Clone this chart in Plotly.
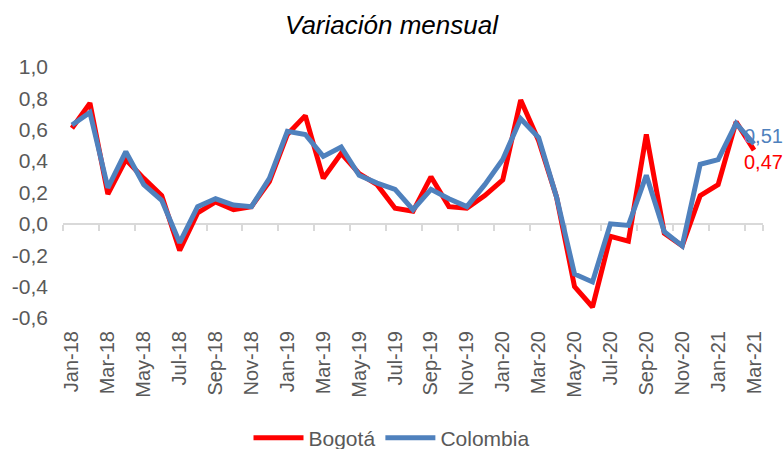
"""
Variación mensual: Bogotá vs Colombia, line chart.
"""

import plotly.graph_objects as go

months = [
    "Jan-18", "Feb-18", "Mar-18", "Apr-18", "May-18", "Jun-18", "Jul-18", "Aug-18",
    "Sep-18", "Oct-18", "Nov-18", "Dec-18", "Jan-19", "Feb-19", "Mar-19", "Apr-19",
    "May-19", "Jun-19", "Jul-19", "Aug-19", "Sep-19", "Oct-19", "Nov-19", "Dec-19",
    "Jan-20", "Feb-20", "Mar-20", "Apr-20", "May-20", "Jun-20", "Jul-20", "Aug-20",
    "Sep-20", "Oct-20", "Nov-20", "Dec-20", "Jan-21", "Feb-21", "Mar-21",
]
bogota = [
    0.61, 0.77, 0.19, 0.41, 0.29, 0.18, -0.17, 0.07, 0.14, 0.09, 0.11, 0.27,
    0.57, 0.69, 0.29, 0.45, 0.32, 0.25, 0.10, 0.08, 0.30, 0.11, 0.10, 0.18,
    0.28, 0.79, 0.53, 0.17, -0.40, -0.53, -0.08, -0.11, 0.57, -0.06, -0.14,
    0.18, 0.25, 0.65, 0.47,
]
colombia = [
    0.63, 0.71, 0.23, 0.46, 0.25, 0.15, -0.12, 0.11, 0.16, 0.12, 0.11, 0.29,
    0.59, 0.57, 0.43, 0.49, 0.31, 0.26, 0.22, 0.09, 0.22, 0.16, 0.11, 0.25,
    0.41, 0.67, 0.55, 0.17, -0.32, -0.37, 0.00, -0.01, 0.31, -0.05, -0.14,
    0.38, 0.41, 0.64, 0.51,
]
y_ticks = [-0.6, -0.4, -0.2, 0.0, 0.2, 0.4, 0.6, 0.8, 1.0]
y_labels = ["-0,6", "-0,4", "-0,2", "0,0", "0,2", "0,4", "0,6", "0,8", "1,0"]

RED = "#FF0000"
BLUE = "#4F81BD"
GRAY_TXT = "#595959"
GRAY_AX = "#D9D9D9"
FONT = "Liberation Sans, Arial, sans-serif"

y_min, y_max = y_ticks[0], y_ticks[-1]
zero_pos = (0 - y_min) / (y_max - y_min)

fig = go.Figure()
fig.add_trace(go.Scatter(
    x=months, y=bogota, name="Bogotá", mode="lines",
    line=dict(color=RED, width=5),
))
fig.add_trace(go.Scatter(
    x=months, y=colombia, name="Colombia", mode="lines",
    line=dict(color=BLUE, width=5),
))
# hidden copy so the zero-crossing axis (ticks only) has its categories
fig.add_trace(go.Scatter(
    x=months, y=colombia, xaxis="x2", mode="lines", opacity=0,
    showlegend=False, hoverinfo="skip",
))

# last value labels
for series, color, shift in [(colombia, BLUE, 8), (bogota, RED, -12)]:
    fig.add_annotation(
        x=months[-1], y=series[-1], text=f"{series[-1]:.2f}".replace(".", ","),
        showarrow=False, xanchor="center", yanchor="middle",
        xshift=9, yshift=shift, font=dict(size=20, color=color, family=FONT),
    )

fig.update_layout(
    width=783, height=449,
    margin=dict(l=63, r=20, t=67, b=131),
    paper_bgcolor="white", plot_bgcolor="white",
    font=dict(family=FONT, size=20, color=GRAY_TXT),
    title=dict(
        text="<i>Variación mensual</i>", x=0.5, xanchor="center",
        y=1 - 25 / 449, yanchor="middle", yref="container",
        font=dict(size=26, color="black", family=FONT),
    ),
    showlegend=True,
    legend=dict(
        orientation="h", xref="container", yref="container",
        x=0.5, xanchor="center", y=1 - 438 / 449, yanchor="middle",
        font=dict(size=21, color=GRAY_TXT), itemwidth=50,
    ),
    xaxis=dict(
        type="category", categoryorder="array", categoryarray=months,
        range=[-0.5, len(months) - 0.5],
        tickmode="array", tickvals=months[::2], tickangle=-90,
        ticks="", showline=False, showgrid=False, zeroline=False,
        ticklabelstandoff=8, tickfont=dict(size=20, color=GRAY_TXT),
    ),
    xaxis2=dict(
        type="category", categoryorder="array", categoryarray=months,
        range=[-0.5, len(months) - 0.5], overlaying="x", anchor="free",
        position=zero_pos, tickmode="array", tickvals=months[::2],
        tickson="boundaries", ticks="outside", ticklen=6, tickwidth=2,
        tickcolor=GRAY_AX, showticklabels=False, showline=False,
        showgrid=False, zeroline=False, layer="below traces",
    ),
    yaxis=dict(
        range=[y_min, y_max], tickmode="array", tickvals=y_ticks,
        ticktext=y_labels, showgrid=False, showline=False,
        zeroline=True, zerolinecolor=GRAY_AX, zerolinewidth=2,
        ticks="", ticklabelstandoff=14, tickfont=dict(size=21, color=GRAY_TXT),
    ),
)

fig.write_html(
    "out.html",
    config={"displayModeBar": False},
    post_script="document.body.style.margin = '0';",
)
